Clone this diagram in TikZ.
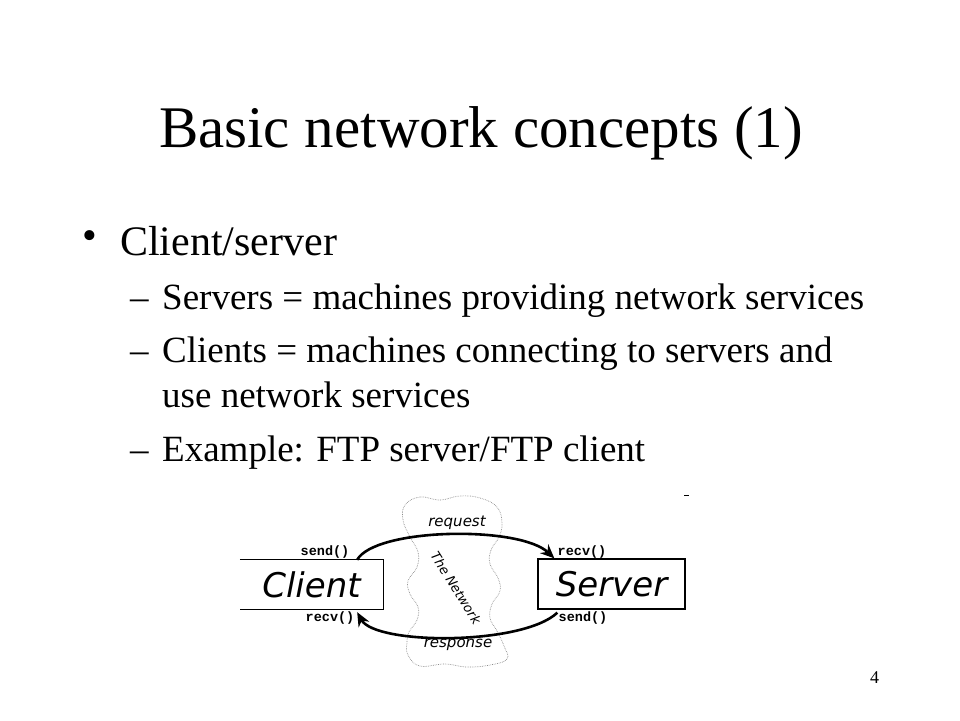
\documentclass[tikz,border=0pt]{standalone}
\usepackage{fontspec}
\setmainfont{Liberation Serif}
\newfontfamily\diagfont{DejaVu Sans}
\newfontfamily\codefont{Liberation Mono}
\usetikzlibrary{calc,arrows.meta}
\tikzset{
	slidetext/.style={anchor=base west, inner sep=0pt},
	hostbox/.style={inner sep=0pt, font=\diagfont\itshape\fontsize{34}{34}\selectfont},
	callname/.style={inner sep=0pt, font=\codefont\bfseries\fontsize{13.5}{13.5}\selectfont},
	msgflow/.style={line width=2.6pt, -{Stealth[length=14pt, width=12pt]}},
	netlabel/.style={inner sep=0pt, font=\diagfont\itshape\fontsize{15}{15}\selectfont},
	netcloud/.style={densely dotted, line width=0.7pt, color=black!45},
}

\begin{document}
\begin{tikzpicture}[x=1pt, y=-1pt]
			%%%%% START %%%%%
			\useasboundingbox (0, 0) rectangle (960, 720);
			
			\node[inner sep=0pt, anchor=base, font=\fontsize{59}{59}\selectfont] (title) at (481, 147) {Basic network concepts (1)};
			
			\node[inner sep=0pt, font=\fontsize{42}{42}\selectfont] (dot) at (90, 240) {•};
			\node[slidetext, font=\fontsize{42}{42}\selectfont] (main) at (120, 255) {Client/server};
			
			\node[slidetext, font=\fontsize{37}{37}\selectfont] (dashA) at (130, 309) {–};
			\node[slidetext, font=\fontsize{37}{37}\selectfont] (lineA) at (162, 309) {Servers = machines providing network services};
			\node[slidetext, font=\fontsize{37}{37}\selectfont] (dashB) at (130, 362) {–};
			\node[slidetext, font=\fontsize{37}{37}\selectfont] (lineB) at (162, 362) {Clients = machines connecting to servers and};
			\node[slidetext, font=\fontsize{37}{37}\selectfont] (lineC) at (162, 407) {use network services};
			\node[slidetext, font=\fontsize{37}{37}\selectfont] (dashD) at (130, 461) {–};
			\node[slidetext, font=\fontsize{37}{37}\selectfont] (lineD) at (162, 461) {Example: FTP server/FTP client};
			
			\draw[netcloud] plot[smooth cycle, tension=0.7] coordinates {
				(405, 505) (420, 497) (440, 500) (460, 496) (480, 498) (497, 507) (502, 523) (499, 537)
				(491, 550) (490, 564) (498, 578) (500, 591) (492, 604) (490, 618) (497, 631) (504, 646)
				(507, 659) (490, 665) (467, 667) (445, 664) (420, 666) (408, 655) (407, 642) (409, 632)
				(417, 620) (418, 607) (410, 594) (408, 581) (417, 567) (418, 552) (410, 537) (403, 520)};
			
			\node[hostbox, minimum width=143pt, minimum height=49pt] (client) at (311.5, 584.5) {Client};
			\draw[line width=1.3pt] (client.north west) -- (client.north east) -- (client.south east) -- (client.south west);
			
			\node[hostbox, draw, line width=1.3pt, minimum width=147pt, minimum height=50pt] (server) at (611.5, 584) {Server};
			\draw[line width=1pt] (684, 495) -- (689, 495);
			
			\node[callname] (csend) at (325, 552) {send()};
			\node[callname] (crecv) at (330, 618) {recv()};
			\node[callname] (srecv) at (582, 552) {recv()};
			\node[callname] (ssend) at (583, 618) {send()};
			
			\draw[msgflow] ($(client.north east)+(-26, 0)$) .. controls +(18, -32) and +(-35, -33) .. ($(server.north west)+(17, 0)$);
			\draw[msgflow] ($(server.south west)+(20, 3)$) .. controls +(-35, 33) and +(18, 33) .. ($(client.south east)+(-26, 3)$);
			
			\node[netlabel] (req) at (457, 523) {request};
			\node[netlabel] (resp) at (458, 645) {response};
			\node[netlabel, font=\diagfont\itshape\fontsize{13}{13}\selectfont, rotate=-58] (net) at (456, 588) {The Network};
			
			\node[slidetext, font=\fontsize{18}{18}\selectfont] (page) at (870, 683) {4};
			
			%%%%% END %%%%%
\end{tikzpicture}
\end{document}
